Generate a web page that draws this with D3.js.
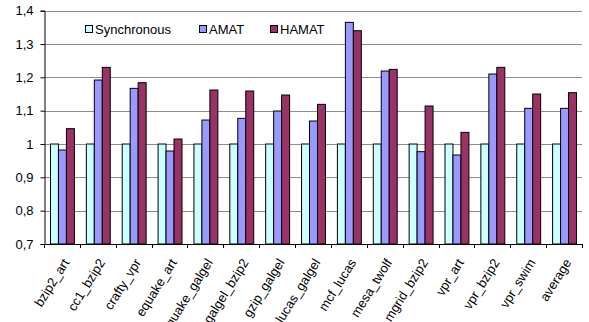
<!DOCTYPE html>
<html>
<head>
<meta charset="utf-8">
<script src="https://cdn.jsdelivr.net/npm/d3@7/dist/d3.min.js"></script>
<style>
  html, body { margin: 0; padding: 0; background: #fff; }
  text { font-family: Arial, "Liberation Sans", sans-serif; fill: #000; }
</style>
</head>
<body>
<svg id="chart" width="589" height="322"></svg>
<script>
// Benchmark pairs and relative performance per scheme
const categories = ["bzip2_art", "cc1_bzip2", "crafty_vpr", "equake_art", "equake_galgel",
  "galgel_bzip2", "gzip_galgel", "lucas_galgel", "mcf_lucas", "mesa_twolf",
  "mgrid_bzip2", "vpr_art", "vpr_bzip2", "vpr_swim", "average"];
const seriesNames = ["Synchronous", "AMAT", "HAMAT"];
const synchronous = [1, 1, 1, 1, 1, 1, 1, 1, 1, 1, 1, 1, 1, 1, 1];
const amat = [0.982, 1.192, 1.167, 0.979, 1.072, 1.077, 1.099, 1.069, 1.365, 1.219,
  0.977, 0.967, 1.210, 1.107, 1.107];
const hamat = [1.046, 1.230, 1.184, 1.015, 1.162, 1.159, 1.147, 1.119, 1.340, 1.224,
  1.114, 1.035, 1.230, 1.150, 1.154];
const yTicks = [0.7, 0.8, 0.9, 1.0, 1.1, 1.2, 1.3, 1.4];
const colors = ["#CCFFFF", "#9999FF", "#993366"];

const seriesValues = [synchronous, amat, hamat];

const svg = d3.select("#chart");
const plotLeft = 44, plotRight = 582, plotTop = 10.7, plotBottom = 244;

const x = d3.scaleBand().domain(categories).range([plotLeft, plotRight]).paddingInner(0.333).paddingOuter(0.1665);
const xs = d3.scaleBand().domain(seriesNames).range([0, x.bandwidth()]);
const y = d3.scaleLinear().domain([0.7, 1.4]).range([plotBottom, plotTop]);

const fmt = d => d3.format(".1f")(d).replace(".", ",").replace(/,0$/, "");

// horizontal gridlines
svg.append("g").selectAll("line").data(yTicks.filter(t => t > 0.7)).join("line")
  .attr("x1", plotLeft).attr("x2", plotRight)
  .attr("y1", d => Math.round(y(d)) + 0.5).attr("y2", d => Math.round(y(d)) + 0.5)
  .attr("stroke", "#8c8c8c").attr("stroke-width", 1);

// bars
const groups = svg.append("g").selectAll("g").data(categories).join("g")
  .attr("transform", c => `translate(${x(c)},0)`);
groups.selectAll("rect")
  .data((c, i) => seriesNames.map((s, k) => ({ s, k, v: seriesValues[k][i] })))
  .join("rect")
  .attr("x", d => xs(d.s) + 0.5)
  .attr("width", xs.bandwidth())
  .attr("y", d => y(d.v))
  .attr("height", d => y(0.7) - y(d.v))
  .attr("fill", d => colors[d.k])
  .attr("stroke", "#000").attr("stroke-width", 1);

// y axis
const yAxis = d3.axisLeft(y).tickValues(yTicks).tickFormat(fmt).tickSize(4).tickPadding(7);
const gy = svg.append("g").attr("transform", `translate(${plotLeft + 0.5},0)`).call(yAxis);
gy.selectAll("text").attr("font-size", 13).style("font-family", "Arial, 'Liberation Sans', sans-serif");
gy.select(".domain").attr("stroke", "#000");
gy.selectAll(".tick line").attr("stroke", "#000");

// x axis with ticks between categories
const gx = svg.append("g");
gx.append("line").attr("x1", plotLeft).attr("x2", plotRight + 0.5)
  .attr("y1", plotBottom + 0.5).attr("y2", plotBottom + 0.5).attr("stroke", "#000");
const step = x.step();
gx.selectAll("line.tk").data(d3.range(categories.length + 1)).join("line")
  .attr("class", "tk")
  .attr("x1", i => Math.round(plotLeft + i * step) + 0.5)
  .attr("x2", i => Math.round(plotLeft + i * step) + 0.5)
  .attr("y1", plotBottom).attr("y2", plotBottom + 4).attr("stroke", "#000");
gx.selectAll("text").data(categories).join("text")
  .attr("transform", c => `translate(${x(c) + x.bandwidth() / 2 + 4},${plotBottom + 16}) rotate(-58)`)
  .attr("text-anchor", "end")
  .attr("dy", "0.35em")
  .attr("font-size", 13)
  .text(c => c);

// legend
const legendPos = [85, 199, 270];
const lg = svg.append("g").selectAll("g").data(seriesNames).join("g")
  .attr("transform", (d, i) => `translate(${legendPos[i]},25)`);
lg.append("rect").attr("x", 0.5).attr("y", 0.5).attr("width", 7).attr("height", 7)
  .attr("fill", (d, i) => colors[i]).attr("stroke", "#000");
lg.append("text").attr("x", 10).attr("y", 4).attr("dy", "0.35em")
  .attr("font-size", 13).text(d => d);
</script>
</body>
</html>
